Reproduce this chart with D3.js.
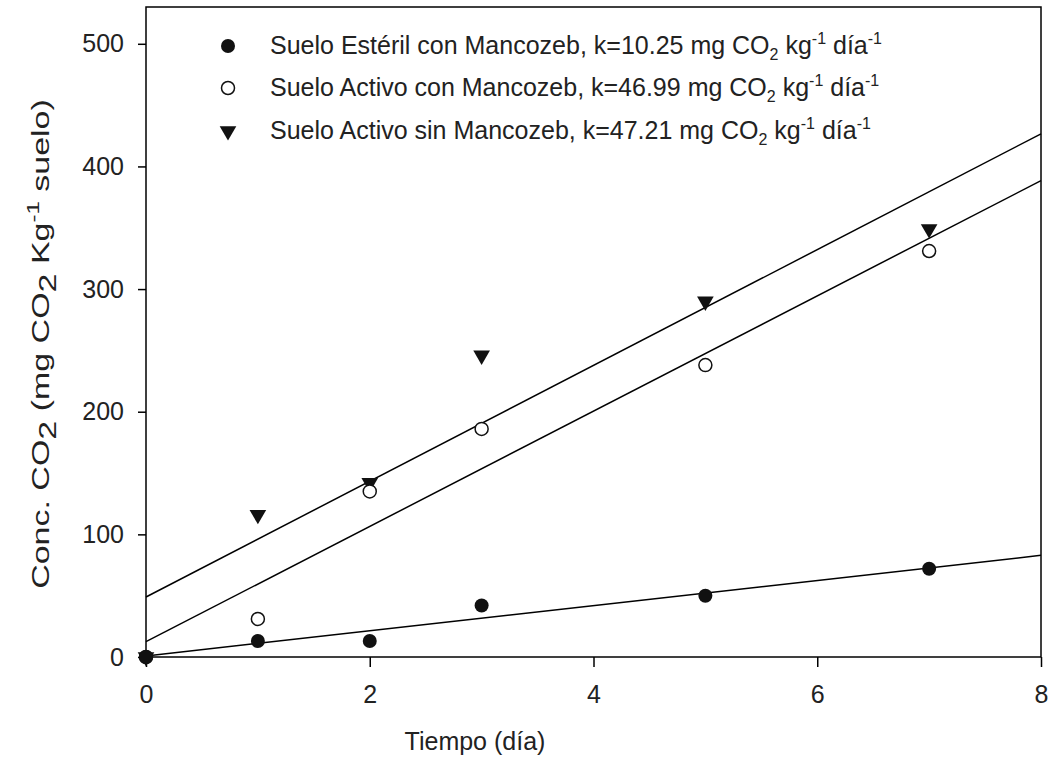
<!DOCTYPE html>
<html><head><meta charset="utf-8">
<script src="https://cdn.jsdelivr.net/npm/d3@7"></script>
<style>body{margin:0;background:#fff}svg{display:block;font-family:"Liberation Sans",Arial,sans-serif}</style>
</head><body><svg id="c" width="1053" height="764"></svg>
<script>
const days = [0, 1, 2, 3, 5, 7];
const esterilCon = [0, 13, 13, 42, 50, 72];
const activoCon = [0, 31, 135, 186, 238, 331];
const activoSin = [0, 116, 142, 246, 290, 349];
const slopes = [10.25, 46.99, 47.21];
const intercepts = [0.9, 12.5, 48.9];
const seriesNames = ["Suelo Estéril con Mancozeb, k=10.25 mg CO", "Suelo Activo con Mancozeb, k=46.99 mg CO", "Suelo Activo sin Mancozeb, k=47.21 mg CO"];
const xTicks = [0, 2, 4, 6, 8];
const yTicks = [0, 100, 200, 300, 400, 500];

const svg = d3.select("#c");
const L = 146, R = 1041, T = 7, B = 657;
const x = d3.scaleLinear().domain([0, 8]).range([L, R]);
const y = d3.scaleLinear().domain([0, 530]).range([B, T]);

svg.append("rect").attr("x", L).attr("y", T).attr("width", R - L).attr("height", B - T)
  .attr("fill", "none").attr("stroke", "#000").attr("stroke-width", 1.5);

const fs = 25;
const xa = svg.append("g").attr("transform", `translate(0,${B})`)
  .call(d3.axisBottom(x).tickValues(xTicks).tickSize(10).tickPadding(18).tickFormat(d3.format("d")));
const ya = svg.append("g").attr("transform", `translate(${L},0)`)
  .call(d3.axisLeft(y).tickValues(yTicks).tickSize(8).tickPadding(14).tickFormat(d3.format("d")));
[xa, ya].forEach(a => {
  a.select(".domain").remove();
  a.selectAll("line").attr("stroke", "#000").attr("stroke-width", 1.5);
  a.selectAll("text").attr("font-size", fs).attr("fill", "#222").attr("font-family", "Liberation Sans, Arial");
});

const lineData = slopes.map((s, i) => [[0, intercepts[i]], [8, intercepts[i] + s * 8]]);
svg.append("g").selectAll("line").data(lineData).join("line")
  .attr("x1", d => x(d[0][0])).attr("y1", d => y(d[0][1]))
  .attr("x2", d => x(d[1][0])).attr("y2", d => y(d[1][1]))
  .attr("stroke", "#000").attr("stroke-width", 1.5);

const tri = d3.symbol().type(d3.symbolTriangle).size(120);
function drawMarker(g, kind, cx, cy) {
  if (kind === 0) g.append("circle").attr("cx", cx).attr("cy", cy).attr("r", 7).attr("fill", "#111");
  else if (kind === 1) g.append("circle").attr("cx", cx).attr("cy", cy).attr("r", 6.5).attr("fill", "#fff").attr("stroke", "#111").attr("stroke-width", 1.5);
  else g.append("path").attr("d", tri).attr("transform", `translate(${cx},${cy}) rotate(180)`).attr("fill", "#111");
}
const allSeries = [esterilCon, activoCon, activoSin];
const mg = svg.append("g");
[2, 1, 0].forEach(k => {
  allSeries[k].forEach((v, i) => drawMarker(mg, k, x(days[i]), y(v)));
});

const lg = svg.append("g");
const rowsY = [46, 88, 131];
seriesNames.forEach((n, i) => {
  drawMarker(lg, i, 228, rowsY[i]);
  const t = lg.append("text").attr("x", 270).attr("y", rowsY[i] + 8).attr("font-size", fs).attr("fill", "#222");
  t.append("tspan").text(n);
  t.append("tspan").text("2").attr("font-size", 16).attr("dy", 6);
  t.append("tspan").text(" kg").attr("dy", -6);
  t.append("tspan").text("-1").attr("font-size", 16).attr("dy", -10);
  t.append("tspan").text(" día").attr("dy", 10);
  t.append("tspan").text("-1").attr("font-size", 16).attr("dy", -10);
});

svg.append("text").attr("x", 475).attr("y", 750).attr("text-anchor", "middle")
  .attr("font-size", fs).attr("fill", "#222").text("Tiempo (día)");
const ytg = svg.append("g");
const yt = ytg.append("text").attr("text-anchor", "middle").attr("font-size", 24).attr("fill", "#222");
yt.append("tspan").text("Conc. CO");
yt.append("tspan").text("2").attr("dy", 7);
yt.append("tspan").text(" (mg CO").attr("dy", -7);
yt.append("tspan").text("2").attr("dy", 7);
yt.append("tspan").text(" Kg").attr("dy", -7);
yt.append("tspan").text("-1").attr("font-size", 17).attr("dy", -10);
yt.append("tspan").text("  suelo)").attr("dy", 10);
const natural = yt.node().getComputedTextLength() || 345;
const k = 490 / natural;
ytg.attr("transform", `translate(49,344) scale(1,${k}) rotate(-90)`);
</script></body></html>
